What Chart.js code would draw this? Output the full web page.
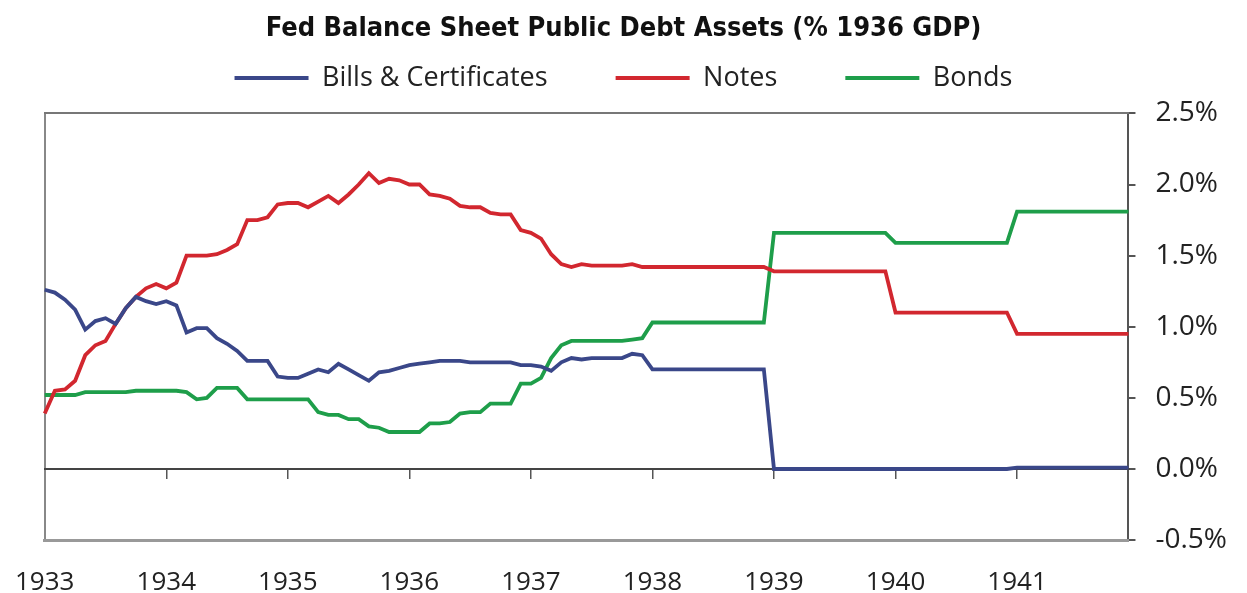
<!DOCTYPE html>
<html>
<head>
<meta charset="utf-8">
<script src="https://cdn.jsdelivr.net/npm/chart.js@4"></script>
<style>
  html, body { margin: 0; padding: 0; background: #fff; }
</style>
</head>
<body>
<canvas id="debtChart" width="1247" height="593"></canvas>
<script>
const years = [1933, 1934, 1935, 1936, 1937, 1938, 1939, 1940, 1941];

// monthly, Jan 1933 .. Dec 1941, % of 1936 GDP
const bills = [
    1.26, 1.24, 1.19, 1.12, 0.98, 1.04, 1.06, 1.02, 1.13, 1.21, 1.18, 1.16,
    1.18, 1.15, 0.96, 0.99, 0.99, 0.92, 0.88, 0.83, 0.76, 0.76, 0.76, 0.65,
    0.64, 0.64, 0.67, 0.70, 0.68, 0.74, 0.70, 0.66, 0.62, 0.68, 0.69, 0.71,
    0.73, 0.74, 0.75, 0.76, 0.76, 0.76, 0.75, 0.75, 0.75, 0.75, 0.75, 0.73,
    0.73, 0.72, 0.69, 0.75, 0.78, 0.77, 0.78, 0.78, 0.78, 0.78, 0.81, 0.80,
    0.70, 0.70, 0.70, 0.70, 0.70, 0.70, 0.70, 0.70, 0.70, 0.70, 0.70, 0.70,
    0.00, 0.00, 0.00, 0.00, 0.00, 0.00, 0.00, 0.00, 0.00, 0.00, 0.00, 0.00,
    0.00, 0.00, 0.00, 0.00, 0.00, 0.00, 0.00, 0.00, 0.00, 0.00, 0.00, 0.00,
    0.01, 0.01, 0.01, 0.01, 0.01, 0.01, 0.01, 0.01, 0.01, 0.01, 0.01, 0.01
];
const notes = [
    0.39, 0.55, 0.56, 0.62, 0.80, 0.87, 0.90, 1.02, 1.13, 1.21, 1.27, 1.30,
    1.27, 1.31, 1.50, 1.50, 1.50, 1.51, 1.54, 1.58, 1.75, 1.75, 1.77, 1.86,
    1.87, 1.87, 1.84, 1.88, 1.92, 1.87, 1.93, 2.00, 2.08, 2.01, 2.04, 2.03,
    2.00, 2.00, 1.93, 1.92, 1.90, 1.85, 1.84, 1.84, 1.80, 1.79, 1.79, 1.68,
    1.66, 1.62, 1.51, 1.44, 1.42, 1.44, 1.43, 1.43, 1.43, 1.43, 1.44, 1.42,
    1.42, 1.42, 1.42, 1.42, 1.42, 1.42, 1.42, 1.42, 1.42, 1.42, 1.42, 1.42,
    1.39, 1.39, 1.39, 1.39, 1.39, 1.39, 1.39, 1.39, 1.39, 1.39, 1.39, 1.39,
    1.10, 1.10, 1.10, 1.10, 1.10, 1.10, 1.10, 1.10, 1.10, 1.10, 1.10, 1.10,
    0.95, 0.95, 0.95, 0.95, 0.95, 0.95, 0.95, 0.95, 0.95, 0.95, 0.95, 0.95
];
const bonds = [
    0.52, 0.52, 0.52, 0.52, 0.54, 0.54, 0.54, 0.54, 0.54, 0.55, 0.55, 0.55,
    0.55, 0.55, 0.54, 0.49, 0.50, 0.57, 0.57, 0.57, 0.49, 0.49, 0.49, 0.49,
    0.49, 0.49, 0.49, 0.40, 0.38, 0.38, 0.35, 0.35, 0.30, 0.29, 0.26, 0.26,
    0.26, 0.26, 0.32, 0.32, 0.33, 0.39, 0.40, 0.40, 0.46, 0.46, 0.46, 0.60,
    0.60, 0.64, 0.78, 0.87, 0.90, 0.90, 0.90, 0.90, 0.90, 0.90, 0.91, 0.92,
    1.03, 1.03, 1.03, 1.03, 1.03, 1.03, 1.03, 1.03, 1.03, 1.03, 1.03, 1.03,
    1.66, 1.66, 1.66, 1.66, 1.66, 1.66, 1.66, 1.66, 1.66, 1.66, 1.66, 1.66,
    1.59, 1.59, 1.59, 1.59, 1.59, 1.59, 1.59, 1.59, 1.59, 1.59, 1.59, 1.59,
    1.81, 1.81, 1.81, 1.81, 1.81, 1.81, 1.81, 1.81, 1.81, 1.81, 1.81, 1.81
];
const yTicks = [-0.5, 0, 0.5, 1.0, 1.5, 2.0, 2.5];

const months = years.flatMap(y => Array.from({length: 12}, (_, i) => y + '-' + String(i + 1).padStart(2, '0')));

const blue = '#3a4789';
const red = '#d2272f';
const green = '#1e9e4a';
const bodyFont = "'Open Sans', 'Noto Sans', sans-serif";

Chart.defaults.font.family = bodyFont;
Chart.defaults.color = '#222';

const ctx = document.getElementById('debtChart').getContext('2d');

const chart = new Chart(ctx, {
    type: 'line',
    data: {
        labels: months,
        datasets: [
            { label: 'Bills & Certificates', data: bills, borderColor: blue, backgroundColor: blue, xAxisID: 'x', yAxisID: 'y' },
            { label: 'Notes', data: notes, borderColor: red, backgroundColor: red, xAxisID: 'x', yAxisID: 'y' },
            { label: 'Bonds', data: bonds, borderColor: green, backgroundColor: green, xAxisID: 'x', yAxisID: 'y' }
        ]
    },
    options: {
        responsive: false,
        animation: false,
        layout: {
            // chart.js reserves twice the tick padding below the year labels
            padding: { left: 0, right: 0, top: -4, bottom: -33 }
        },
        elements: {
            line: { borderWidth: 3.8, tension: 0 },
            point: { radius: 0 }
        },
        plugins: {
            title: {
                display: true,
                text: 'Fed Balance Sheet Public Debt Assets (% 1936 GDP)',
                color: '#111',
                font: { family: "'Liberation Sans Narrow', 'DejaVu Sans Condensed', sans-serif", size: 27, weight: 'bold' },
                // the legend row sits under the title, its own padding fills the gap
                padding: { top: 17, bottom: -49 }
            },
            legend: {
                labels: {
                    boxWidth: 74,
                    boxHeight: 4,
                    padding: 68,
                    font: { size: 27 },
                    color: '#222',
                    generateLabels: c => Chart.defaults.plugins.legend.labels.generateLabels(c)
                        .map(l => ({ ...l, lineWidth: 0 }))
                }
            },
            tooltip: { enabled: false }
        },
        scales: {
            y: {
                position: 'right',
                min: -0.5,
                max: 2.5,
                afterBuildTicks: axis => { axis.ticks = yTicks.map(v => ({ value: v })); },
                ticks: {
                    padding: 20,
                    font: { size: 28 },
                    color: '#222',
                    callback: v => v.toFixed(1) + '%'
                },
                grid: { drawOnChartArea: false, drawTicks: true, tickLength: 7, tickColor: '#555', lineWidth: 2 },
                border: { color: '#555', width: 2 }
            },
            yLeft: {
                position: 'left',
                min: -0.5,
                max: 2.5,
                ticks: { display: false },
                grid: { drawOnChartArea: false, drawTicks: false },
                border: { color: '#888', width: 2 }
            },
            x: {
                type: 'category',
                position: 'bottom',
                ticks: {
                    autoSkip: false,
                    maxRotation: 0,
                    padding: 15,
                    font: { size: 26, lineHeight: 2.15 },
                    color: '#222',
                    callback: (v, i) => i % 12 === 0 ? String(years[i / 12]) : ''
                },
                grid: { drawOnChartArea: false, drawTicks: false },
                border: { color: '#999', width: 3 }
            },
            xZero: {
                type: 'category',
                position: { y: 0 },
                ticks: { display: false },
                grid: {
                    drawOnChartArea: false,
                    drawTicks: true,
                    tickLength: 9,
                    lineWidth: 1.5,
                    tickColor: c => c.index % 12 === 0 ? '#555' : 'transparent'
                },
                border: { color: '#444', width: 2 }
            },
            xTop: {
                type: 'category',
                position: 'top',
                ticks: { display: false },
                grid: { drawOnChartArea: false, drawTicks: true, tickLength: 12, tickColor: 'transparent' },
                border: { color: '#777', width: 2 }
            }
        }
    }
});
</script>
</body>
</html>
